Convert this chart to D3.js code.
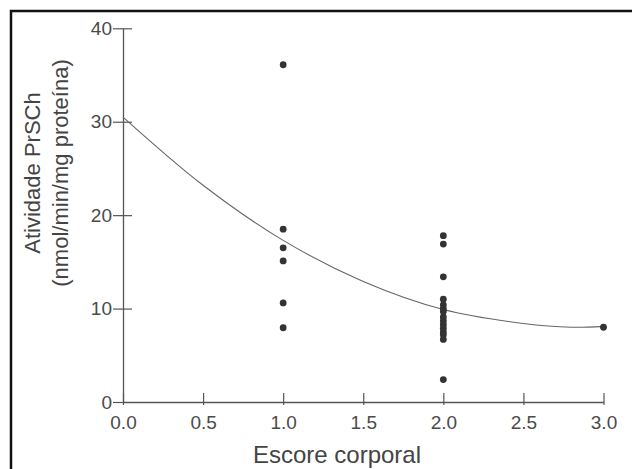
<!DOCTYPE html>
<html>
<head>
<meta charset="utf-8">
<script src="https://cdn.jsdelivr.net/npm/d3@7"></script>
<style>
  body { margin:0; background:#fff; }
  text { font-family: "Liberation Sans", Arial, sans-serif; fill:#444; }
</style>
</head>
<body>
<svg id="chart" width="632" height="469"></svg>
<script>
// values
const scoreGroups = [1, 1, 1, 1, 1, 1, 2, 2, 2, 2, 2, 2, 2, 2, 2, 2, 2, 2, 2, 2, 2, 3];
const activity   = [36.1, 18.5, 16.5, 15.1, 10.6, 7.95,
                    17.8, 16.9, 13.4, 11.0, 10.4, 10.0, 9.7, 9.1, 8.7, 8.3, 7.9, 7.5, 7.2, 6.7, 2.4,
                    8.0];
const fitX = [0, 0.5, 1, 1.5, 2, 2.5, 2.8, 3];
const fitY = [30.5, 23.2, 17.3, 12.9, 9.9, 8.4, 8.0, 8.1];
const xTicks = [0, 0.5, 1, 1.5, 2, 2.5, 3];
const yTicks = [0, 10, 20, 30, 40];
const xTitle = "Escore corporal";
const yTitle = ["Atividade PrSCh", "(nmol/min/mg proteína)"];

const svg = d3.select('#chart');
const x = d3.scaleLinear().domain([0, 3]).range([123, 603.5]);
const y = d3.scaleLinear().domain([0, 40]).range([402, 28.3]);

// frame (only top and left edges fall in view)
svg.append('rect').attr('x', 11).attr('y', 11).attr('width', 700).attr('height', 600)
  .attr('fill', 'none').attr('stroke', '#111').attr('stroke-width', 2.5);

const axisCol = '#555';
// x axis
const gx = svg.append('g').attr('transform', `translate(0,${y(0)})`)
  .call(d3.axisBottom(x).tickValues(xTicks).tickFormat(d3.format('.1f')).tickSize(0).tickPadding(14));
gx.select('.domain').attr('stroke', axisCol).attr('stroke-width', 1.3);
gx.selectAll('.tick line').attr('y1', -9).attr('y2', 3).attr('stroke', axisCol).attr('stroke-width', 1.2);
gx.selectAll('.tick text').style('font-size', '19px').style('fill', '#4a4a4a');

// y axis
const gy = svg.append('g').attr('transform', `translate(${x(0)},0)`)
  .call(d3.axisLeft(y).tickValues(yTicks).tickSize(0).tickPadding(11));
gy.select('.domain').attr('stroke', axisCol).attr('stroke-width', 1.3);
gy.selectAll('.tick line').attr('x1', -10).attr('x2', d => d === 0 ? 0 : 9)
  .attr('stroke', axisCol).attr('stroke-width', 1.2);
gy.selectAll('.tick text').style('font-size', '19px').style('fill', '#4a4a4a');

// fitted curve
const line = d3.line().x((d, i) => x(fitX[i])).y(d => y(d)).curve(d3.curveCatmullRom.alpha(0.5));
svg.append('path').attr('d', line(fitY)).attr('fill', 'none')
  .attr('stroke', '#666').attr('stroke-width', 1.1);

// points
svg.append('g').selectAll('circle').data(activity).join('circle')
  .attr('cx', (d, i) => x(scoreGroups[i])).attr('cy', d => y(d)).attr('r', 3.4)
  .attr('fill', '#333');

// titles
svg.append('text').attr('x', 337).attr('y', 463).attr('text-anchor', 'middle')
  .style('font-size', '24px').text(xTitle);
const yt = svg.append('text').attr('transform', 'translate(0,173) rotate(-90)')
  .attr('text-anchor', 'middle').style('font-size', '22px');
yt.append('tspan').attr('x', 0).attr('y', 40).text(yTitle[0]);
yt.append('tspan').attr('x', 0).attr('y', 68).text(yTitle[1]);
</script>
</body>
</html>
